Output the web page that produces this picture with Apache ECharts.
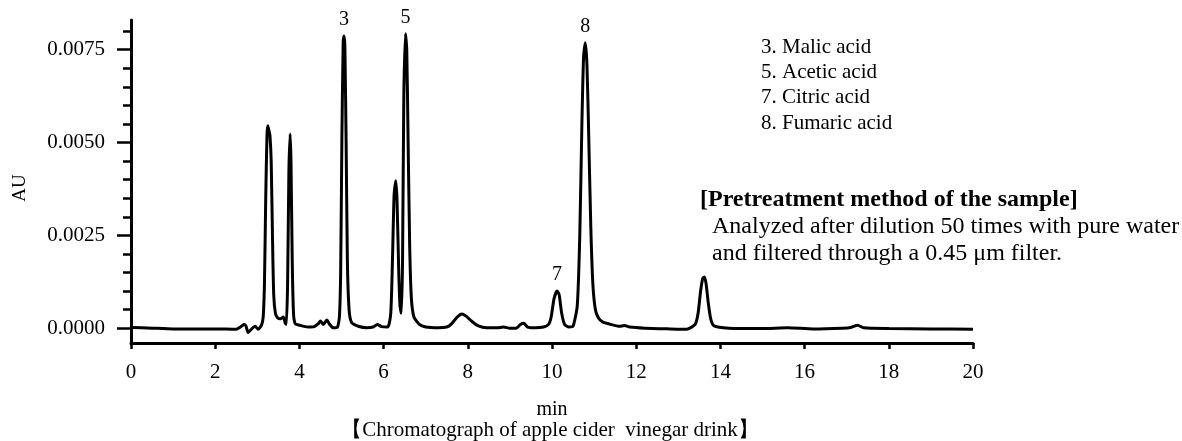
<!doctype html>
<html>
<head>
<meta charset="utf-8">
<title>Chromatograph of apple cider vinegar drink</title>
<style>
html, body { margin: 0; padding: 0; background: #fff; }
#main { width: 1182px; height: 441px; }
</style>
</head>
<body>
<div id="main"></div>
<script src="https://cdn.jsdelivr.net/npm/echarts@6/dist/echarts.min.js"></script>
<script>
// retention time (min), absorbance (AU)
var trace = [
  [0, 0.00002], [0.5, 0.0], [1.0, -0.00002], [1.5, -0.00002], [2.0, -0.00002], [2.5, -0.00003],
  [2.6, 0.00003], [2.68, 0.0001], [2.73, 0.00006], [2.78, -0.00012], [2.85, -0.00004],
  [2.95, 0.00005], [3.02, -0.00003], [3.1, 0.00008], [3.14, 0.0003], [3.17, 0.0012],
  [3.2, 0.0035], [3.23, 0.0052], [3.25, 0.00545], [3.28, 0.0053], [3.3, 0.0052], [3.33, 0.0045],
  [3.36, 0.0025], [3.39, 0.0009], [3.43, 0.0004], [3.48, 0.00028], [3.55, 0.00025], [3.62, 0.0003],
  [3.66, 0.00015], [3.69, 0.0001], [3.72, 0.0012], [3.75, 0.0042], [3.78, 0.00523],
  [3.8, 0.0045], [3.83, 0.0018], [3.86, 0.0004], [3.9, 0.00012], [4.0, 0.00008], [4.2, 0.00003],
  [4.35, 0.00004], [4.45, 0.00012], [4.5, 0.00019], [4.57, 0.0001], [4.65, 0.00022],
  [4.72, 0.0001], [4.8, 0.00001], [4.9, 0.00002], [4.95, 0.0003], [4.98, 0.0015],
  [5.01, 0.0052], [5.04, 0.0077], [5.06, 0.00787], [5.08, 0.0076], [5.11, 0.005],
  [5.14, 0.0018], [5.18, 0.0005], [5.24, 0.00015], [5.4, 0.00005], [5.6, 0.00001],
  [5.75, 0.00003], [5.85, 0.0001], [5.95, 0.00004], [6.1, 0.00003], [6.17, 0.0004],
  [6.21, 0.0018], [6.25, 0.0036], [6.29, 0.00397], [6.32, 0.0034], [6.36, 0.0015],
  [6.39, 0.0006], [6.42, 0.0004], [6.45, 0.0018], [6.48, 0.0062], [6.52, 0.00793],
  [6.55, 0.0075], [6.58, 0.0052], [6.62, 0.0022], [6.66, 0.0008], [6.72, 0.0003],
  [6.85, 0.0001], [7.0, 0.00003], [7.3, 0.00001], [7.5, 0.00003], [7.6, 0.0001],
  [7.75, 0.0003], [7.86, 0.00038], [7.95, 0.00033], [8.1, 0.00018], [8.25, 0.00006],
  [8.45, 0.00001], [8.7, 0.00001], [8.85, 0.00003], [9.0, 0.0], [9.15, 0.0], [9.25, 0.0001],
  [9.33, 0.00013], [9.42, 0.00003], [9.6, 0.00001], [9.8, 0.00003], [9.92, 0.0001],
  [9.98, 0.0003], [10.05, 0.0008], [10.12, 0.001], [10.17, 0.0009], [10.23, 0.0004],
  [10.3, 0.0001], [10.4, 0.00003], [10.5, 0.00005], [10.6, 0.0006], [10.66, 0.0025],
  [10.71, 0.0055], [10.75, 0.0073], [10.79, 0.00769], [10.83, 0.0071], [10.87, 0.0053],
  [10.92, 0.0028], [10.97, 0.0012], [11.03, 0.0005], [11.1, 0.00028], [11.2, 0.00017],
  [11.4, 0.0001], [11.6, 0.00005], [11.72, 0.00007], [11.85, 0.00003], [12.2, 0.0],
  [12.8, -0.00002], [13.2, -0.00003], [13.4, 0.0001], [13.47, 0.0004], [13.53, 0.001],
  [13.58, 0.00134], [13.62, 0.00138], [13.66, 0.0012], [13.71, 0.0007], [13.77, 0.00025],
  [13.85, 0.00006], [14.2, 0.0], [15.0, -0.00001], [15.6, 0.00001], [16.2, -0.00002],
  [16.9, 0.0], [17.1, 0.00002], [17.26, 0.00008], [17.4, 0.00001], [18.0, -0.00001],
  [19.0, -0.00002], [20.0, -0.00003]
];

var peakLabels = [
  { name: '3', coord: [5.06, 0.00787] },
  { name: '5', coord: [6.52, 0.00793] },
  { name: '7', coord: [10.12, 0.001] },
  { name: '8', coord: [10.79, 0.00769] }
];

var compounds = ['3. Malic acid', '5. Acetic acid', '7. Citric acid', '8. Fumaric acid'];

var yMajorTicks = [0, 0.0025, 0.005, 0.0075];
var yMinorTicks = [0, 0.0005, 0.001, 0.0015, 0.002, 0.0025, 0.003, 0.0035, 0.004, 0.0045,
                   0.005, 0.0055, 0.006, 0.0065, 0.007, 0.0075, 0.008];

var serif = '"Liberation Serif", "DejaVu Serif", serif';

var myChart = echarts.init(document.getElementById('main'));

function label(txt, x, y, font, align) {
    return {
        type: 'text', x: x, y: y,
        style: { text: txt, font: font, fill: '#000', align: align || 'left', verticalAlign: 'middle' }
    };
}

var graphics = compounds.map(function (txt, i) {
    return label(txt, 761, 47 + i * 25.4, '21px ' + serif);
});
graphics.push(
    label('[Pretreatment method of the sample]', 700, 200, 'bold 24px ' + serif),
    label('Analyzed after dilution 50 times with pure water', 712, 227, '24px ' + serif),
    label('and filtered through a 0.45 \u03bcm filter.', 712, 254, '24px ' + serif),
    label('\u3010Chromatograph of apple cider  vinegar drink\u3011', 550, 430, '21px ' + serif, 'center')
);
graphics.push({
    type: 'text', x: 20, y: 188, rotation: Math.PI / 2,
    style: { text: 'AU', font: '19px ' + serif, fill: '#000', align: 'center', verticalAlign: 'middle' }
});

myChart.setOption({
    animation: false,
    backgroundColor: '#fff',
    grid: { left: 131, right: 209, top: 20, bottom: 98, containLabel: false },
    xAxis: {
        type: 'value', min: 0, max: 20, interval: 2,
        name: 'min', nameLocation: 'middle', nameGap: 57,
        nameTextStyle: { fontFamily: serif, fontSize: 20, color: '#000' },
        axisLine: { show: true, onZero: false, lineStyle: { color: '#000', width: 3 } },
        axisTick: { show: true, length: 6, lineStyle: { color: '#000', width: 2.5 } },
        minorTick: { show: true, splitNumber: 2, length: 2, lineStyle: { color: '#000', width: 2.5 } },
        axisLabel: { margin: 19, fontFamily: serif, fontSize: 21, color: '#000' },
        splitLine: { show: false }
    },
    yAxis: [{
        type: 'value', min: -0.0004, max: 0.0083, position: 'left',
        axisLine: { show: true, lineStyle: { color: '#000', width: 3 } },
        axisTick: { show: true, length: 14, customValues: yMajorTicks, lineStyle: { color: '#000', width: 2.5 } },
        axisLabel: {
            margin: 26, fontFamily: serif, fontSize: 21, color: '#000',
            customValues: yMajorTicks,
            formatter: function (v) { return v.toFixed(4); }
        },
        splitLine: { show: false }
    }, {
        type: 'value', min: -0.0004, max: 0.0083, position: 'left',
        axisLine: { show: false },
        axisTick: { show: true, length: 8, customValues: yMinorTicks, lineStyle: { color: '#000', width: 2.5 } },
        axisLabel: { show: false },
        splitLine: { show: false }
    }],
    graphic: graphics,
    series: [{
        type: 'line',
        data: trace,
        yAxisIndex: 0,
        showSymbol: false,
        smooth: 0.2,
        lineStyle: { color: '#000', width: 3 },
        markPoint: {
            symbol: 'circle', symbolSize: 0,
            label: {
                show: true, position: 'top', distance: 6,
                formatter: '{b}', fontFamily: serif, fontSize: 20, color: '#000'
            },
            data: peakLabels
        }
    }]
});
</script>
</body>
</html>
